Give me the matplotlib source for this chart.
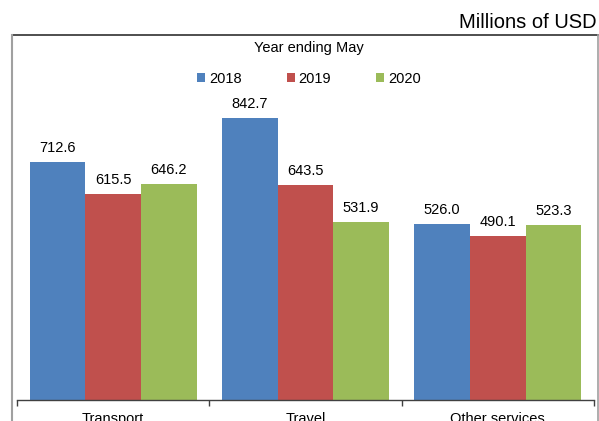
import matplotlib
matplotlib.use("Agg")
import matplotlib.pyplot as plt
import numpy as np
from matplotlib.lines import Line2D

categories = ["Transport", "Travel", "Other services"]
years = ["2018", "2019", "2020"]
values = {
    "2018": [712.6, 842.7, 526.0],
    "2019": [615.5, 643.5, 490.1],
    "2020": [646.2, 531.9, 523.3],
}
colors = ["#4F81BD", "#C0504D", "#9BBB59"]
title_text = "Chart 3: Services Exports by Type"
unit_text = "Millions of USD"
legend_title = "Year ending May"

plt.rcParams["font.family"] = ["Liberation Sans", "DejaVu Sans"]

W, H = 599, 421
fig = plt.figure(figsize=(W / 100, H / 100), dpi=100)

ax_left, ax_right, ax_top, ax_bottom = 17, 594, 35, 400
ax = fig.add_axes([ax_left / W, 1 - ax_bottom / H, (ax_right - ax_left) / W, (ax_bottom - ax_top) / H])

x = np.arange(len(categories))
bw = 0.289
bars = []
for i, (yr, col) in enumerate(zip(years, colors)):
    b = ax.bar(x + (i - 1) * bw, values[yr], width=bw, color=col, label=yr, linewidth=0)
    ax.bar_label(b, labels=[f"{v:.1f}" for v in values[yr]], padding=5, fontsize=10.5, color="#000000")
    bars.append(b)

ax.set_xlim(-0.5, len(categories) - 0.5)
ax.set_ylim(0, 1091)
for s in ["left", "right", "top"]:
    ax.spines[s].set_visible(False)
ax.spines["bottom"].set_color("#404040")
ax.spines["bottom"].set_linewidth(1.0)
ax.set_yticks([])
ax.set_xticks(x)
ax.set_xticklabels(categories, fontsize=10.5)
ax.tick_params(axis="x", which="major", length=0, pad=8.5)
ax.set_xticks(np.arange(len(categories) + 1) - 0.5, minor=True)
ax.tick_params(axis="x", which="minor", length=4, width=1.0, color="#404040", direction="out")

leg = ax.legend(handles=bars, labels=years, title=legend_title, ncol=3, frameon=False,
                loc="upper center", bbox_to_anchor=(309 / W, 1 - 41 / H), bbox_transform=fig.transFigure,
                fontsize=10.5, title_fontsize=10.5, handlelength=0.55, handleheight=0.55,
                handletextpad=0.25, columnspacing=3.1, labelspacing=1.15, borderpad=0, borderaxespad=0)

# outer chart border
fig.add_artist(Line2D([12 / W, 598 / W], [1 - 35 / H, 1 - 35 / H], transform=fig.transFigure, color="#303030", lw=1.2))
fig.add_artist(Line2D([12 / W, 12 / W], [0, 1 - 35 / H], transform=fig.transFigure, color="#a0a0a0", lw=1.5))
fig.add_artist(Line2D([598 / W, 598 / W], [0, 1 - 35 / H], transform=fig.transFigure, color="#a0a0a0", lw=1.2))

fig.text(597 / W, 1 - 23 / H, unit_text, ha="right", va="center", fontsize=14.5, color="#000000")
fig.text(5 / W, 1 + 5 / H, title_text, ha="left", va="baseline", fontsize=13.3, fontweight="bold", color="#000000")

fig.savefig("out.png", dpi=100)
